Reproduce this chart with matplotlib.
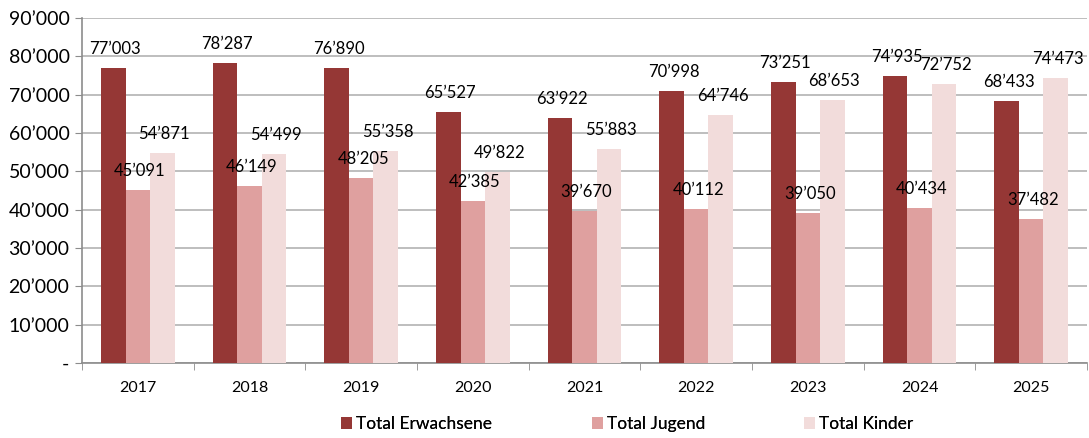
import matplotlib.pyplot as plt
import numpy as np
from matplotlib.ticker import FuncFormatter, MultipleLocator

plt.rcParams['font.family'] = ['Lato', 'DejaVu Sans']

years = ['2017', '2018', '2019', '2020', '2021', '2022', '2023', '2024', '2025']
erwachsene = [77003, 78287, 76890, 65527, 63922, 70998, 73251, 74935, 68433]
jugend = [45091, 46149, 48205, 42385, 39670, 40112, 39050, 40434, 37482]
kinder = [54871, 54499, 55358, 49822, 55883, 64746, 68653, 72752, 74473]

series = [
    ('Total Erwachsene', erwachsene, '#953735'),
    ('Total Jugend', jugend, '#dfa09f'),
    ('Total Kinder', kinder, '#f2dcdb'),
]


def fmt(v):
    if v == 0:
        return '-'
    return f'{int(v):,}'.replace(',', '\u2019')


fig = plt.figure(figsize=(10.89, 4.38), dpi=100)
ax = fig.add_axes([82 / 1089, 1 - 363 / 438, 1005 / 1089, 345 / 438])

x = np.arange(len(years))
w = 0.22
bars = []
for i, (name, vals, col) in enumerate(series):
    pos = x + (i - 1) * w
    bars.append(ax.bar(pos, vals, w, color=col, label=name, zorder=3))
    for px, v in zip(pos, vals):
        ax.annotate(fmt(v), (px, v), xytext=(2, 19), textcoords='offset pixels',
                    ha='center', va='center', fontsize=12, color='black', zorder=4)

ax.set_xlim(-0.5, len(years) - 0.5)
ax.set_ylim(0, 90000)
ax.yaxis.set_major_locator(MultipleLocator(10000))
ax.yaxis.set_major_formatter(FuncFormatter(lambda v, p: fmt(v)))
ax.grid(axis='y', color='#b3b3b3', linewidth=1.2, zorder=0)

ax.set_xticks(x)
ax.set_xticklabels(years)
ax.set_xticks(np.arange(len(years) + 1) - 0.5, minor=True)
ax.tick_params(axis='x', which='major', length=0, pad=13, labelsize=11.5)
ax.tick_params(axis='x', which='minor', length=5, color='#8c8c8c', direction='out')
ax.tick_params(axis='y', length=5, color='#8c8c8c', labelsize=14, pad=4)

for s in ['top', 'right']:
    ax.spines[s].set_visible(False)
for s in ['left', 'bottom']:
    ax.spines[s].set_color('#8c8c8c')
    ax.spines[s].set_linewidth(1.2)

# one legend per entry, placed like the original
leg_x = [341, 592, 804]
for b, (name, _, _), lx in zip(bars, series, leg_x):
    lg = fig.legend([b], [name], loc='center left', bbox_to_anchor=(lx / 1089, 1 - 424 / 438),
                    frameon=False, fontsize=12.5, handlelength=0.63, handleheight=0.63,
                    handletextpad=0.23, borderpad=0, borderaxespad=0)
    fig.add_artist(lg)

fig.savefig('out.png', dpi=100)
